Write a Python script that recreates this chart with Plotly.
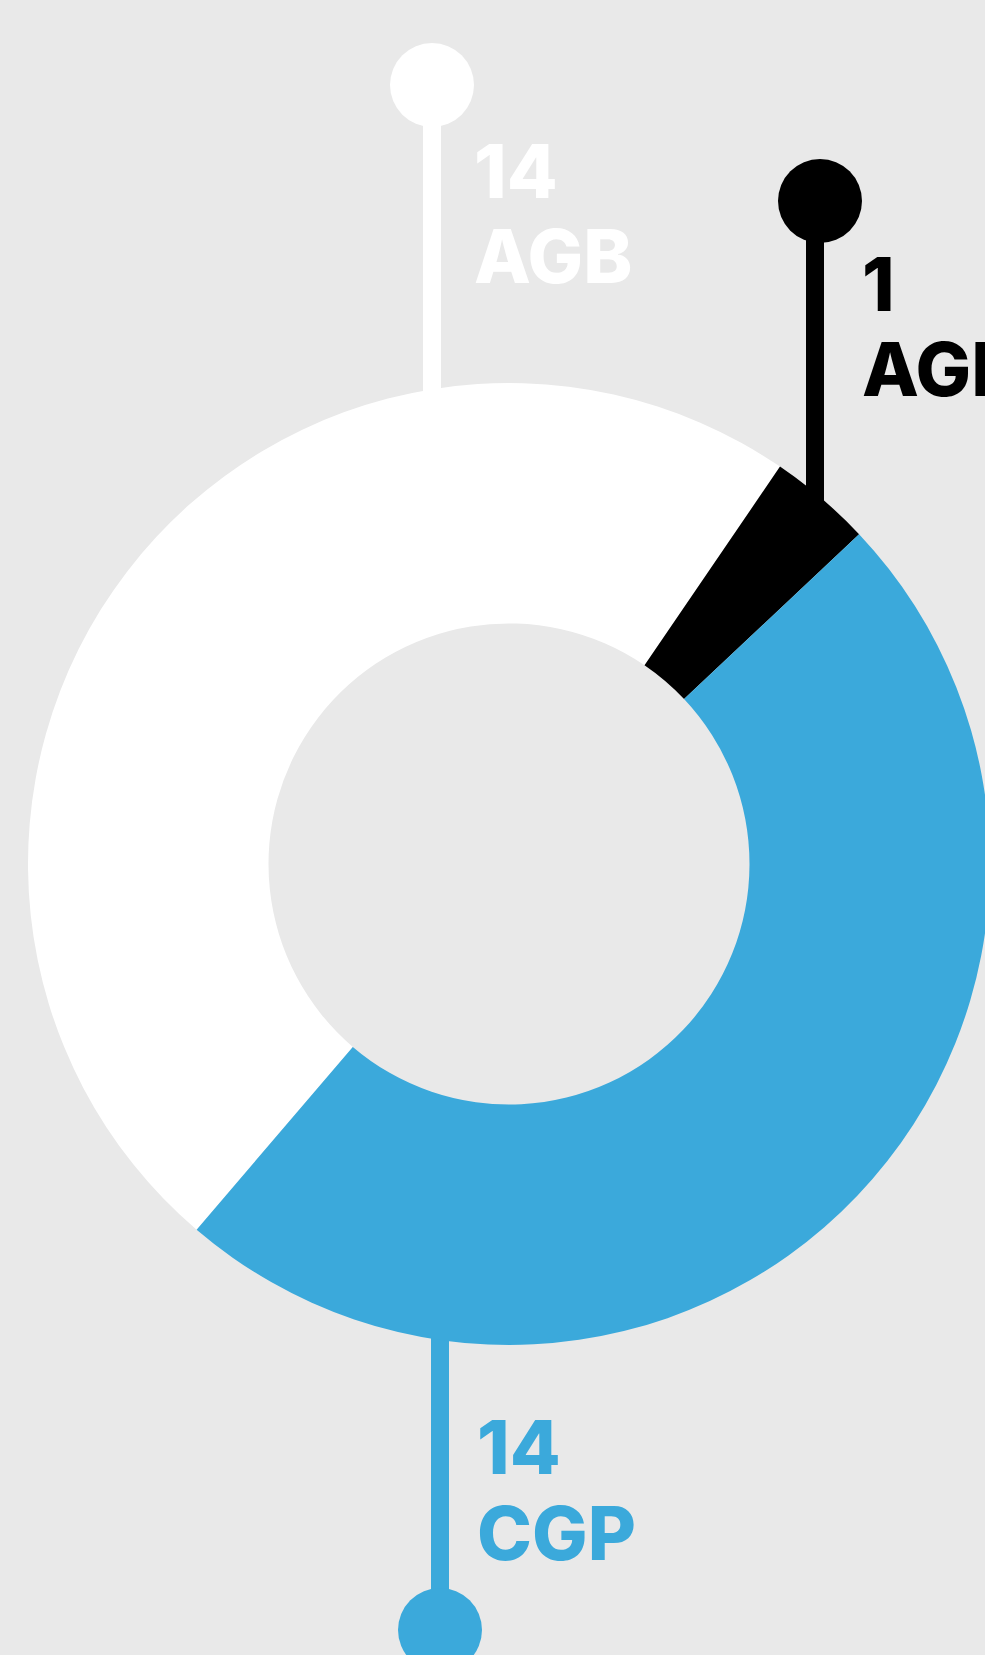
import plotly.graph_objects as go

# ---- data ----
labels = ["AGB", "AGP", "CGP"]
values = [14, 1, 14]
value_text = ["14", "1", "14"]
colors = ["#ffffff", "#000000", "#3ba9db"]

# ---- layout parameters (pixels) ----
W, H = 1000, 1655
CX, CY, R = 509, 864, 481
HOLE = 0.5
ROTATION = 220.5
FONT_SIZE = 74
CAP = 54

callout_x = [432, 815, 440]          # stem x
knob_xy = [(432, 85), (820, 201), (440, 1630)]
stem_end_y = [400, 510, 1330]
text_x = [472, 860, 475]
num_cap_top = [142, 255, 1418]
lab_cap_top = [227, 340, 1504]
KNOB_R = 42
STEM_W = 18

fig = go.Figure()

fig.add_trace(go.Pie(
    labels=labels, values=values, marker=dict(colors=colors, line=dict(width=0)),
    hole=HOLE, sort=False, direction="clockwise", rotation=ROTATION,
    textinfo="none", showlegend=False,
    domain=dict(x=[(CX - R) / W, (CX + R) / W],
                y=[(H - CY - R) / H, (H - CY + R) / H]),
))

shapes = []
annotations = []
for i in range(len(labels)):
    c = colors[i]
    kx, ky = knob_xy[i]
    shapes.append(dict(type="line", xref="x", yref="y", x0=callout_x[i], x1=callout_x[i],
                       y0=ky, y1=stem_end_y[i], line=dict(color=c, width=STEM_W), layer="below"))
    shapes.append(dict(type="circle", xref="x", yref="y", x0=kx - KNOB_R, x1=kx + KNOB_R,
                       y0=ky - KNOB_R, y1=ky + KNOB_R, fillcolor=c, line=dict(width=0), layer="below"))
    for txt, top in ((value_text[i], num_cap_top[i]), (labels[i], lab_cap_top[i])):
        annotations.append(dict(xref="x", yref="y", x=text_x[i], y=top + CAP / 2 + 2,
                                xanchor="left", yanchor="middle", showarrow=False, text=txt,
                                font=dict(family="Inter", size=FONT_SIZE, color=c, weight=800)))

fig.update_layout(
    width=W, height=H, margin=dict(l=0, r=0, t=0, b=0),
    paper_bgcolor="#e9e9e9", plot_bgcolor="rgba(0,0,0,0)",
    xaxis=dict(range=[0, W], visible=False, fixedrange=True, domain=[0, 1]),
    yaxis=dict(range=[H, 0], visible=False, fixedrange=True, domain=[0, 1]),
    shapes=shapes, annotations=annotations, showlegend=False,
)

fig.write_html("out.html", config={"displayModeBar": False},
               post_script="document.body.style.margin='0';document.documentElement.style.overflow='hidden';document.body.style.overflow='hidden';")
